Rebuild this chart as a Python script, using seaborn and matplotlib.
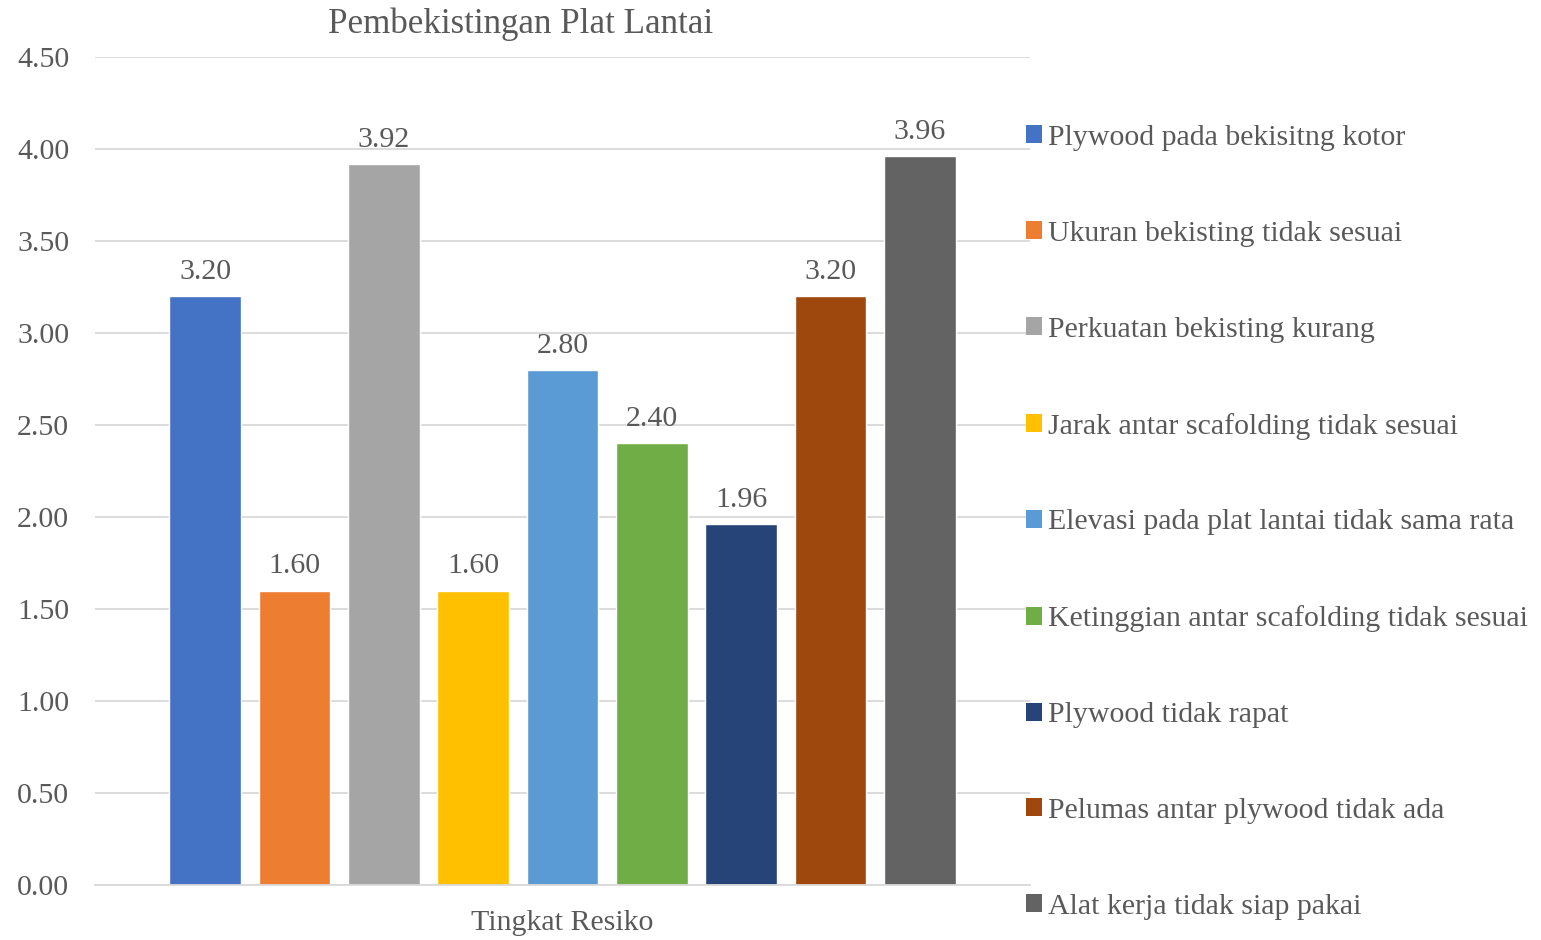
import pandas as pd
import seaborn as sns
import matplotlib.pyplot as plt
from matplotlib.patches import Patch

# data
category = ["Tingkat Resiko"]
risks = [
    "Plywood pada bekisitng kotor",
    "Ukuran bekisting tidak sesuai",
    "Perkuatan bekisting kurang",
    "Jarak antar scafolding tidak sesuai",
    "Elevasi pada plat lantai tidak sama rata",
    "Ketinggian antar scafolding tidak sesuai",
    "Plywood tidak rapat",
    "Pelumas antar plywood tidak ada",
    "Alat kerja tidak siap pakai",
]
scores = [3.20, 1.60, 3.92, 1.60, 2.80, 2.40, 1.96, 3.20, 3.96]
colors = ["#4472C4", "#ED7D31", "#A5A5A5", "#FFC000", "#5B9BD5",
          "#70AD47", "#264478", "#9E480E", "#636363"]

df = pd.DataFrame({"Kategori": category * len(risks), "Risiko": risks, "Nilai": scores})

sns.set_style("white")
plt.rcParams['font.family'] = ['Liberation Serif', 'DejaVu Serif']
text_col = "#595959"
fs = 21.5

fig = plt.figure(figsize=(15.41, 9.40), dpi=100)
ax = fig.add_axes([95 / 1541, 1 - 885 / 940, (1030 - 95) / 1541, (885 - 57) / 940])

sns.barplot(data=df, x="Kategori", y="Nilai", hue="Risiko", hue_order=risks,
            palette=colors, width=0.86, gap=0.2, ax=ax, legend=False,
            errorbar=None, saturation=1)

for cont in ax.containers:
    ax.bar_label(cont, fmt="%.2f", padding=8, fontsize=fs, color=text_col)

ax.set_xlim(-0.5, 0.5)
ax.set_ylim(0, 4.5)
ax.set_yticks([i * 0.5 for i in range(10)])
ax.set_yticklabels([f"{i * 0.5:.2f}" for i in range(10)], fontsize=fs, color=text_col)
ax.set_xticks([0])
ax.set_xticklabels(category, fontsize=fs, color=text_col)
ax.tick_params(axis="y", length=0, pad=18.5)
ax.tick_params(axis="x", length=0, pad=18)
ax.set_xlabel("")
ax.set_ylabel("")
ax.grid(axis="y", color="#D9D9D9", linewidth=1.3)
ax.set_axisbelow(True)
for s in ["top", "right", "left"]:
    ax.spines[s].set_visible(False)
ax.spines["bottom"].set_color("#D9D9D9")
ax.spines["bottom"].set_linewidth(1.3)

fig.text(521 / 1541, 1 - 24 / 940, "Pembekistingan Plat Lantai", ha="center", va="center",
         fontsize=25.2, color=text_col)

handles = [Patch(facecolor=c, edgecolor="none") for c in colors]
leg = fig.legend(handles, risks, loc="upper left", bbox_to_anchor=(1014 / 1541, 1 - 113 / 940),
                 frameon=False, fontsize=fs, handlelength=0.55, handleheight=0.55,
                 handletextpad=0.2, labelspacing=2.34, borderaxespad=0)
for t in leg.get_texts():
    t.set_color(text_col)

fig.savefig("out.png", dpi=100)
